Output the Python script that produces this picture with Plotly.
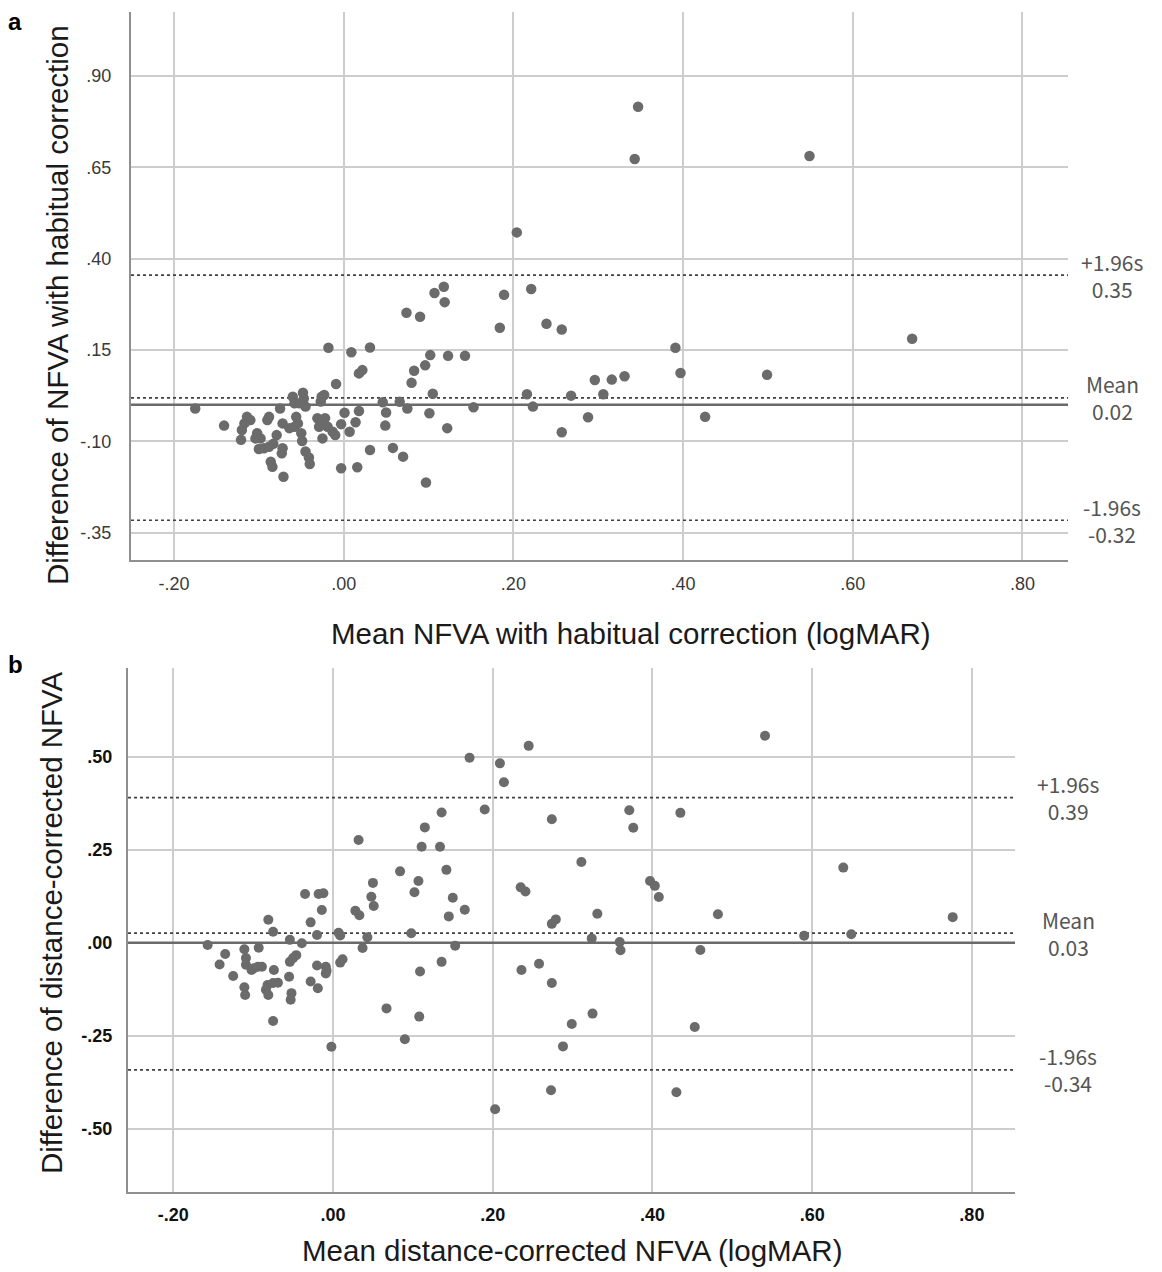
import plotly.graph_objects as go

# ---------------- Panel a data ----------------
a_mean = [-0.175, -0.141, -0.114, -0.110, -0.117, -0.120, -0.121, -0.102, -0.098, -0.104,
          -0.100, -0.094, -0.088, -0.083, -0.086, -0.084, -0.071, -0.072, -0.073, -0.079,
          -0.088, -0.090, -0.075, -0.072, -0.064, -0.058, -0.056, -0.054, -0.060, -0.058,
          -0.048, -0.047, -0.045, -0.052, -0.050, -0.049, -0.045, -0.041, -0.040, -0.031,
          -0.022, -0.027, -0.029, -0.019, -0.013, -0.010, -0.025, -0.026, -0.023, -0.027,
          -0.009, 0.001, -0.003, 0.007, 0.014, 0.018, 0.018, 0.022, -0.003, 0.016,
          0.031, 0.046, 0.050, 0.049, 0.058, 0.066, 0.075, 0.070, 0.080, -0.018,
          0.009, 0.031, 0.107, 0.118, 0.119, 0.074, 0.090, 0.189, 0.221, 0.184,
          0.239, 0.257, 0.391, 0.670, 0.102, 0.123, 0.143, 0.096, 0.083, 0.105,
          0.101, 0.153, 0.122, 0.097, 0.216, 0.223, 0.268, 0.296, 0.316, 0.331,
          0.306, 0.288, 0.257, 0.397, 0.499, 0.426, 0.347, 0.343, 0.549, 0.204]
a_diff = [-0.010, -0.057, -0.033, -0.042, -0.051, -0.069, -0.096, -0.078, -0.092, -0.092,
          -0.121, -0.119, -0.115, -0.107, -0.156, -0.170, -0.197, -0.119, -0.133, -0.083,
          -0.033, -0.042, -0.010, -0.051, -0.064, -0.060, -0.033, -0.051, 0.022, 0.004,
          0.033, 0.017, -0.005, 0.004, -0.078, -0.099, -0.128, -0.144, -0.162, -0.037,
          -0.037, -0.051, -0.060, -0.060, -0.074, -0.083, -0.092, 0.022, 0.027, 0.009,
          0.057, -0.022, -0.053, -0.074, -0.048, -0.017, 0.086, 0.095, -0.174, -0.171,
          -0.124, 0.007, -0.021, -0.057, -0.118, 0.008, -0.010, -0.142, 0.060, 0.156,
          0.144, 0.157, 0.306, 0.323, 0.281, 0.252, 0.241, 0.301, 0.317, 0.211,
          0.222, 0.206, 0.156, 0.181, 0.136, 0.134, 0.134, 0.108, 0.093, 0.030,
          -0.023, -0.007, -0.064, -0.213, 0.029, -0.005, 0.025, 0.068, 0.069, 0.078,
          0.029, -0.034, -0.075, 0.087, 0.082, -0.033, 0.816, 0.673, 0.681, 0.472]
a_loa_vals = [0.355, 0.019, -0.316]
a_loa_text = ["+1.96s<br>0.35", "Mean<br>0.02", "-1.96s<br>-0.32"]
a_xticks = [-0.2, 0.0, 0.2, 0.4, 0.6, 0.8]
a_yticks = [0.90, 0.65, 0.40, 0.15, -0.10, -0.35]

# ---------------- Panel b data ----------------
b_mean = [0.541, 0.171, 0.209, 0.245, 0.214, 0.190, 0.136, 0.274, 0.371, 0.376,
          0.435, 0.134, 0.142, 0.311, 0.639, 0.235, 0.241, 0.397, 0.403, 0.408,
          0.150, 0.165, 0.145, 0.331, 0.482, 0.776, 0.274, 0.279, 0.153, 0.324,
          0.359, 0.360, 0.590, 0.649, 0.460, 0.136, 0.236, 0.258, 0.274, 0.325,
          0.299, 0.288, 0.453, 0.273, 0.203, 0.430,
          0.115, 0.111, 0.032, 0.084, 0.107, 0.102, 0.050, 0.048, 0.051, 0.028,
          0.033, 0.098, 0.043, 0.037, 0.007, 0.009, 0.012, 0.009, 0.109, -0.035,
          -0.018, -0.012, -0.014, -0.028, -0.020, -0.081, -0.075, -0.039, -0.054, -0.157,
          -0.135, -0.142, -0.125, -0.111, -0.093, -0.109, -0.109, -0.102, -0.094, -0.089,
          -0.099, -0.074, -0.054, -0.050, -0.046, -0.020, -0.009, -0.009, -0.008, -0.055,
          -0.069, -0.075, -0.082, -0.084, -0.081, -0.111, -0.110, -0.028, -0.019, -0.052,
          -0.053, -0.075, -0.002, 0.067, 0.108, 0.090]
b_diff = [0.556, 0.497, 0.482, 0.529, 0.431, 0.358, 0.350, 0.332, 0.356, 0.309,
          0.349, 0.258, 0.196, 0.217, 0.202, 0.149, 0.138, 0.166, 0.153, 0.123,
          0.121, 0.089, 0.071, 0.078, 0.077, 0.069, 0.051, 0.063, -0.008, 0.012,
          0.002, -0.020, 0.019, 0.023, -0.019, -0.051, -0.073, -0.056, -0.108, -0.190,
          -0.218, -0.278, -0.226, -0.396, -0.447, -0.401,
          0.310, 0.258, 0.276, 0.192, 0.166, 0.136, 0.161, 0.124, 0.099, 0.086,
          0.074, 0.026, 0.015, -0.014, 0.027, 0.020, -0.044, -0.053, -0.077, 0.131,
          0.131, 0.133, 0.088, 0.055, 0.021, 0.062, 0.030, -0.001, 0.008, -0.006,
          -0.030, -0.058, -0.089, -0.017, -0.013, -0.041, -0.059, -0.073, -0.064, -0.064,
          -0.068, -0.073, -0.051, -0.041, -0.033, -0.061, -0.064, -0.082, -0.075, -0.091,
          -0.107, -0.108, -0.113, -0.126, -0.140, -0.119, -0.140, -0.104, -0.122, -0.135,
          -0.153, -0.210, -0.279, -0.176, -0.198, -0.259]
b_loa_vals = [0.39, 0.026, -0.341]
b_loa_text = ["+1.96s<br>0.39", "Mean<br>0.03", "-1.96s<br>-0.34"]
b_xticks = [-0.2, 0.0, 0.2, 0.4, 0.6, 0.8]
b_yticks = [0.50, 0.25, 0.00, -0.25, -0.50]


def spss_fmt(v):
    s = f"{v:.2f}"
    if s.startswith("0"):
        s = s[1:]
    elif s.startswith("-0"):
        s = "-" + s[2:]
    return s


# the page body has an 8px margin; the figure is sized so it fills the window
OFF = 8
W, H = 1162 - OFF, 1272 - OFF
def px(x):
    return (x - OFF) / W
def py(y):
    return 1 - (y - OFF) / H

MARK = "#6b6b6b"
GRID = "#cdcdcd"
AXL = "#8f8f8f"

a_xrange = [-0.2507, 0.8537]
a_yrange = [-0.425, 1.0755]
b_xrange = [-0.2567, 0.854]
b_yrange = [-0.669, 0.738]

fig = go.Figure()

# reference lines drawn as line traces (above gridlines, below markers)
def hline(v, xr, xa, ya, solid):
    line = dict(color="#6a6a6a", width=2.5) if solid else dict(color="#404040", width=1.6, dash="dot")
    fig.add_trace(go.Scatter(x=xr, y=[v, v], mode="lines", xaxis=xa, yaxis=ya,
                             line=line, hoverinfo="skip"))

hline(0, a_xrange, "x", "y", True)
for v in a_loa_vals:
    hline(v, a_xrange, "x", "y", False)
hline(0, b_xrange, "x2", "y2", True)
for v in b_loa_vals:
    hline(v, b_xrange, "x2", "y2", False)

fig.add_trace(go.Scatter(x=a_mean, y=a_diff, mode="markers", xaxis="x", yaxis="y",
                         marker=dict(color=MARK, size=10.5), hoverinfo="skip"))
fig.add_trace(go.Scatter(x=b_mean, y=b_diff, mode="markers", xaxis="x2", yaxis="y2",
                         marker=dict(color=MARK, size=10), hoverinfo="skip"))

annotations = []
LOA_FONT = dict(family="Noto Sans CJK JP, Noto Sans, sans-serif", size=21, color="#555555")
for v, t in zip(a_loa_vals, a_loa_text):
    annotations.append(dict(xref="paper", yref="y", x=px(1112), y=v, text=t, showarrow=False,
                            xanchor="center", yanchor="middle", align="center", font=LOA_FONT))
for v, t in zip(b_loa_vals, b_loa_text):
    annotations.append(dict(xref="paper", yref="y2", x=px(1068), y=v, text=t, showarrow=False,
                            xanchor="center", yanchor="middle", align="center", font=LOA_FONT))

TITLE_FONT = dict(family="Liberation Sans, Arial, sans-serif", size=29.5, color="#1a1a1a")
annotations += [
    dict(xref="paper", yref="paper", x=px(631), y=py(633), text="Mean NFVA with habitual correction (logMAR)",
         showarrow=False, xanchor="center", yanchor="middle", font=TITLE_FONT),
    dict(xref="paper", yref="paper", x=px(57), y=py(305), text="Difference of NFVA with habitual correction",
         showarrow=False, xanchor="center", yanchor="middle", textangle=-90, font=TITLE_FONT),
    dict(xref="paper", yref="paper", x=px(572), y=py(1250), text="Mean distance-corrected NFVA (logMAR)",
         showarrow=False, xanchor="center", yanchor="middle", font=TITLE_FONT),
    dict(xref="paper", yref="paper", x=px(51), y=py(923), text="Difference of distance-corrected NFVA",
         showarrow=False, xanchor="center", yanchor="middle", textangle=-90, font=TITLE_FONT),
    dict(xref="paper", yref="paper", x=px(15), y=py(22), text="<b>a</b>", showarrow=False,
         xanchor="center", yanchor="middle", font=dict(family="Liberation Sans, Arial", size=24, color="#000")),
    dict(xref="paper", yref="paper", x=px(15), y=py(664), text="<b>b</b>", showarrow=False,
         xanchor="center", yanchor="middle", font=dict(family="Liberation Sans, Arial", size=24, color="#000")),
]

tick_a = dict(family="Liberation Sans, Arial, sans-serif", size=18, color="#3a3a3a")
tick_b = dict(family="Liberation Sans, Arial, sans-serif", size=18, color="#111111", weight="bold")

common = dict(showgrid=True, gridcolor=GRID, gridwidth=1.5, zeroline=False, showline=True,
              linecolor=AXL, linewidth=2, ticks="", mirror=False)

fig.update_layout(
    width=W, height=H, margin=dict(l=0, r=0, t=0, b=0),
    paper_bgcolor="white", plot_bgcolor="white", showlegend=False,
    xaxis=dict(domain=[px(131), px(1068)], anchor="y", range=a_xrange,
               tickvals=a_xticks, ticktext=[spss_fmt(v) for v in a_xticks], tickfont=tick_a,
               ticklabelstandoff=6, **common),
    yaxis=dict(domain=[py(560), py(12)], anchor="x", range=a_yrange,
               tickvals=a_yticks, ticktext=[spss_fmt(v) for v in a_yticks], tickfont=tick_a,
               ticklabelstandoff=14, **common),
    xaxis2=dict(domain=[px(128), px(1015)], anchor="y2", range=b_xrange,
                tickvals=b_xticks, ticktext=[spss_fmt(v) for v in b_xticks], tickfont=tick_b,
                ticklabelstandoff=5, **common),
    yaxis2=dict(domain=[py(1192), py(668)], anchor="x2", range=b_yrange,
                tickvals=b_yticks, ticktext=[spss_fmt(v) for v in b_yticks], tickfont=tick_b,
                ticklabelstandoff=10, **common),
    annotations=annotations,
)

fig.write_html("out.html")
